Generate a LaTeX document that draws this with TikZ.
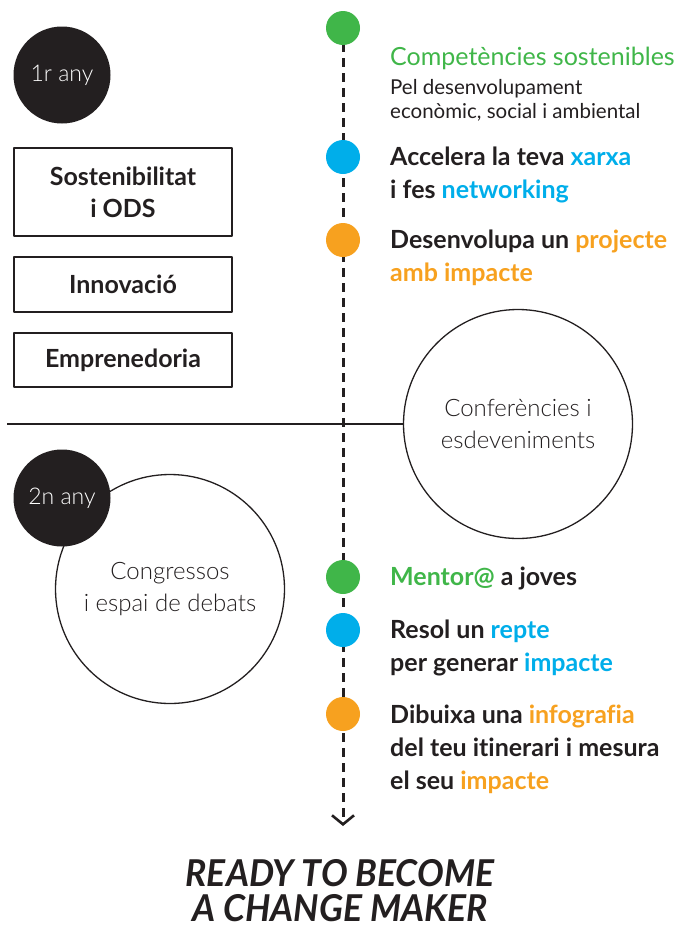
\documentclass[tikz,border=0pt]{standalone}
\usepackage{fontspec}
\setmainfont{Lato}[Ligatures=NoCommon]
\newfontfamily\lightfont{Lato Light}[Ligatures=NoCommon]
\usepackage{graphicx}
\usetikzlibrary{arrows.meta}
\definecolor{cgreen}{HTML}{40B649}
\definecolor{cblue}{HTML}{00AEEA}
\definecolor{corange}{HTML}{F7A11F}
\definecolor{cdark}{HTML}{231F20}

\begin{document}
\begin{tikzpicture}[line cap=butt,line join=round,x=1pt,y=-1pt,
  dot/.style={circle,inner sep=0pt,minimum size=34pt},
  dashline/.style={cdark,line width=3pt,dash pattern=on 9pt off 6pt},
  yearball/.style={circle,fill=cdark,text=white,inner sep=0pt,minimum size=97pt,font=\lightfont\fontsize{23}{27}\selectfont},
  bigring/.style={circle,draw=cdark,fill=white,line width=1.3pt,inner sep=0pt,minimum size=229pt,align=center,text=cdark,font=\lightfont\fontsize{24}{32}\selectfont},
  modbox/.style={draw=cdark,line width=1.3pt,minimum width=218pt,align=center,text=cdark,font=\bfseries\fontsize{25}{32}\selectfont},
  stepline/.style={anchor=west,inner sep=0pt,align=left,text=cdark,font=\bfseries\fontsize{25}{33}\selectfont}]
\useasboundingbox (0,0) rectangle (678,929);
%
% timeline
\coordinate (top) at (343,28);
\coordinate (tip) at (343,826);
\draw [dashline,-{Straight Barb[length=9pt,width=22pt,line width=2.6pt]}] (top) -- (tip);
\node [dot,fill=cgreen] (g1) at (343,28) {};
\node [dot,fill=cblue] (b1) at (343,157) {};
\node [dot,fill=corange] (o1) at (343,240) {};
\node [dot,fill=cgreen] (g2) at (343,577) {};
\node [dot,fill=cblue] (b2) at (343,630) {};
\node [dot,fill=corange] (o2) at (343,714) {};
%
% first year
\node [stepline,font=\fontsize{25}{33}\selectfont,text=cgreen] (comp) at (390,58) {Competències sostenibles};
\node [stepline,font=\fontsize{20.5}{24}\selectfont] (compsub) at (390,100) {Pel desenvolupament\\econòmic, social i ambiental};
\node [stepline] (xarxa) at (390,175) {Accelera la teva \textcolor{cblue}{xarxa}\\i fes \textcolor{cblue}{networking}};
\node [stepline] (proj) at (390,257.5) {Desenvolupa un \textcolor{corange}{projecte}\\\textcolor{corange}{amb impacte}};
%
\node [modbox,minimum height=88pt] (sost) at (123,192) {Sostenibilitat\\i ODS};
\node [modbox,minimum height=55pt] (innov) at (123,284.5) {Innovació};
\node [modbox,minimum height=54pt] (empr) at (123,360) {Emprenedoria};
\node [yearball] (any1) at (62,75) {1r any};
%
% divider
\node [bigring] (conf) at (518,424) {Conferències i\\esdeveniments};
\coordinate (edge) at (7,424);
\draw [cdark,line width=1.5pt] (edge) -- (conf.west);
%
% second year
\node [bigring] (congr) at (170,589) {Congressos\\i espai de debats};
\node [yearball] (any2) at (62,498) {2n any};
\node [stepline] (ment) at (390,578) {\textcolor{cgreen}{Mentor@} a joves};
\node [stepline] (repte) at (390,648) {Resol un \textcolor{cblue}{repte}\\per generar \textcolor{cblue}{impacte}};
\node [stepline] (info) at (390,749) {Dibuixa una \textcolor{corange}{infografia}\\del teu itinerari i mesura\\el seu \textcolor{corange}{impacte}};
%
\node [align=center,text=cdark,inner sep=0pt,font=\bfseries\itshape\fontsize{37}{35}\selectfont] (ready) at (340,891)
  {\scalebox{0.96}[1]{READY TO BECOME}\\\scalebox{0.96}[1]{A CHANGE MAKER}};
\end{tikzpicture}
\end{document}
